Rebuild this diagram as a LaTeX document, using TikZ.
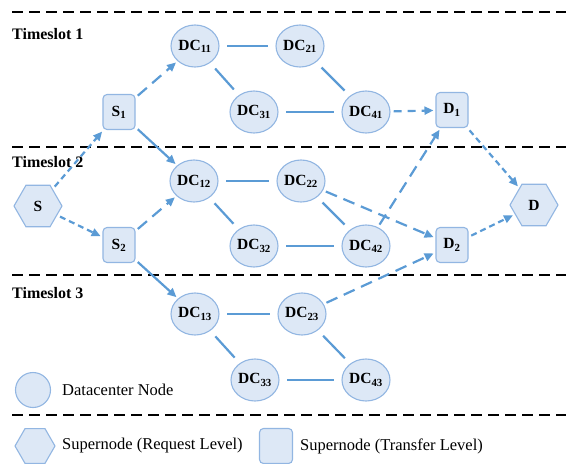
\documentclass[tikz,border=0pt]{standalone}
\usepackage{fontspec}
\setmainfont{Liberation Serif}
\usetikzlibrary{shapes.geometric,arrows.meta}

\definecolor{nodefill}{HTML}{DDE8F6}
\definecolor{nodeline}{HTML}{92B6E2}
\definecolor{linkblue}{HTML}{5B9BD5}

\tikzset{
  base/.style={fill=nodefill, draw=nodeline, line width=1.1pt, inner sep=0pt,
    font=\fontsize{15.5}{17}\selectfont\bfseries},
  dc/.style={base, ellipse, minimum width=48pt, minimum height=42pt},
  superbox/.style={base, rounded corners=4pt, minimum width=32pt, minimum height=35pt},
  superhex/.style={base, regular polygon, regular polygon sides=6, minimum size=48pt},
  link/.style={draw=linkblue, line width=2.2pt, shorten <=7.5pt, shorten >=7.5pt},
  flow/.style={draw=linkblue, line width=2.2pt, shorten <=3pt, shorten >=2pt,
    -{Triangle[length=9pt,width=8pt]}},
  sdash/.style={dash pattern=on 6pt off 4pt},
  mdash/.style={dash pattern=on 8pt off 6pt},
  ldash/.style={dash pattern=on 12pt off 7pt},
  divider/.style={draw=black, line width=2.6pt, dash pattern=on 11pt off 6pt},
  slot/.style={anchor=west, inner sep=0pt, font=\fontsize{16}{18}\selectfont\bfseries},
  legtext/.style={anchor=west, inner sep=0pt, font=\fontsize{16.5}{18}\selectfont},
}

\begin{document}
\begin{tikzpicture}[x=1pt,y=-1pt]
\useasboundingbox (0,0) rectangle (566,464);

% timeslot dividers
\coordinate (l0a) at (12,12);  \coordinate (l0b) at (566,12);
\coordinate (l1a) at (12,147); \coordinate (l1b) at (566,147);
\coordinate (l2a) at (12,275); \coordinate (l2b) at (566,275);
\coordinate (l3a) at (12,415); \coordinate (l3b) at (566,415);
\draw[divider] (l0a) -- (l0b);
\draw[divider] (l1a) -- (l1b);
\draw[divider] (l2a) -- (l2b);
\draw[divider] (l3a) -- (l3b);

% timeslot labels
\node[slot] (t1) at (12,34)  {Timeslot 1};
\node[slot] (t2) at (12,162) {Timeslot 2};
\node[slot] (t3) at (12,293) {Timeslot 3};

% request-level supernodes
\node[superhex] (S) at (38,206)  {S};
\node[superhex] (D) at (534,205) {D};

% transfer-level supernodes
\node[superbox] (S1) at (119,112) {S\textsubscript{1}};
\node[superbox] (S2) at (119,245) {S\textsubscript{2}};
\node[superbox] (D1) at (452,110) {D\textsubscript{1}};
\node[superbox] (D2) at (452,245) {D\textsubscript{2}};

% datacenters, timeslot 1
\node[dc] (DC11) at (195,46)  {DC\textsubscript{11}};
\node[dc] (DC21) at (300,46)  {DC\textsubscript{21}};
\node[dc] (DC31) at (254,112) {DC\textsubscript{31}};
\node[dc] (DC41) at (366,112) {DC\textsubscript{41}};
% timeslot 2
\node[dc] (DC12) at (194,181) {DC\textsubscript{12}};
\node[dc] (DC22) at (301,181) {DC\textsubscript{22}};
\node[dc] (DC32) at (254,246) {DC\textsubscript{32}};
\node[dc] (DC42) at (366,246) {DC\textsubscript{42}};
% timeslot 3
\node[dc] (DC13) at (195,314) {DC\textsubscript{13}};
\node[dc] (DC23) at (302,314) {DC\textsubscript{23}};
\node[dc] (DC33) at (255,380) {DC\textsubscript{33}};
\node[dc] (DC43) at (366,380) {DC\textsubscript{43}};

% datacenter links
\draw[link] (DC11) -- (DC21);
\draw[link] (DC11) -- (DC31);
\draw[link] (DC21) -- (DC41);
\draw[link] (DC31) -- (DC41);
\draw[link] (DC12) -- (DC22);
\draw[link] (DC12) -- (DC32);
\draw[link] (DC22) -- (DC42);
\draw[link] (DC32) -- (DC42);
\draw[link] (DC13) -- (DC23);
\draw[link] (DC13) -- (DC33);
\draw[link] (DC23) -- (DC43);
\draw[link] (DC33) -- (DC43);

% source side flows
\draw[flow,sdash] (S) -- (S1);
\draw[flow,sdash] (S) -- (S2);
\draw[flow,ldash] (S1) -- (DC11);
\draw[flow] (S1) -- (DC12);
\draw[flow,ldash] (S2) -- (DC12);
\draw[flow] (S2) -- (DC13);

% destination side flows
\draw[flow,mdash] (DC41) -- (D1);
\draw[flow,ldash] (DC42) -- (D1);
\draw[flow,ldash] (DC22) -- (D2);
\draw[flow,ldash] (DC23) -- (D2);
\draw[flow,sdash] (D1) -- (D);
\draw[flow,sdash] (D2) -- (D);

% legend
\node[base, circle, minimum size=35pt] (legdc) at (33,390) {};
\node[legtext] (legdctext) at (62,390) {Datacenter Node};
\node[base, regular polygon, regular polygon sides=6, minimum size=40pt] (leghex) at (35,446) {};
\node[legtext] (leghextext) at (62,446) {Supernode (Request Level)};
\node[base, rounded corners=4pt, minimum width=33pt, minimum height=35pt] (legbox) at (276,446) {};
\node[legtext] (legboxtext) at (300,446) {Supernode (Transfer Level)};
\end{tikzpicture}
\end{document}
